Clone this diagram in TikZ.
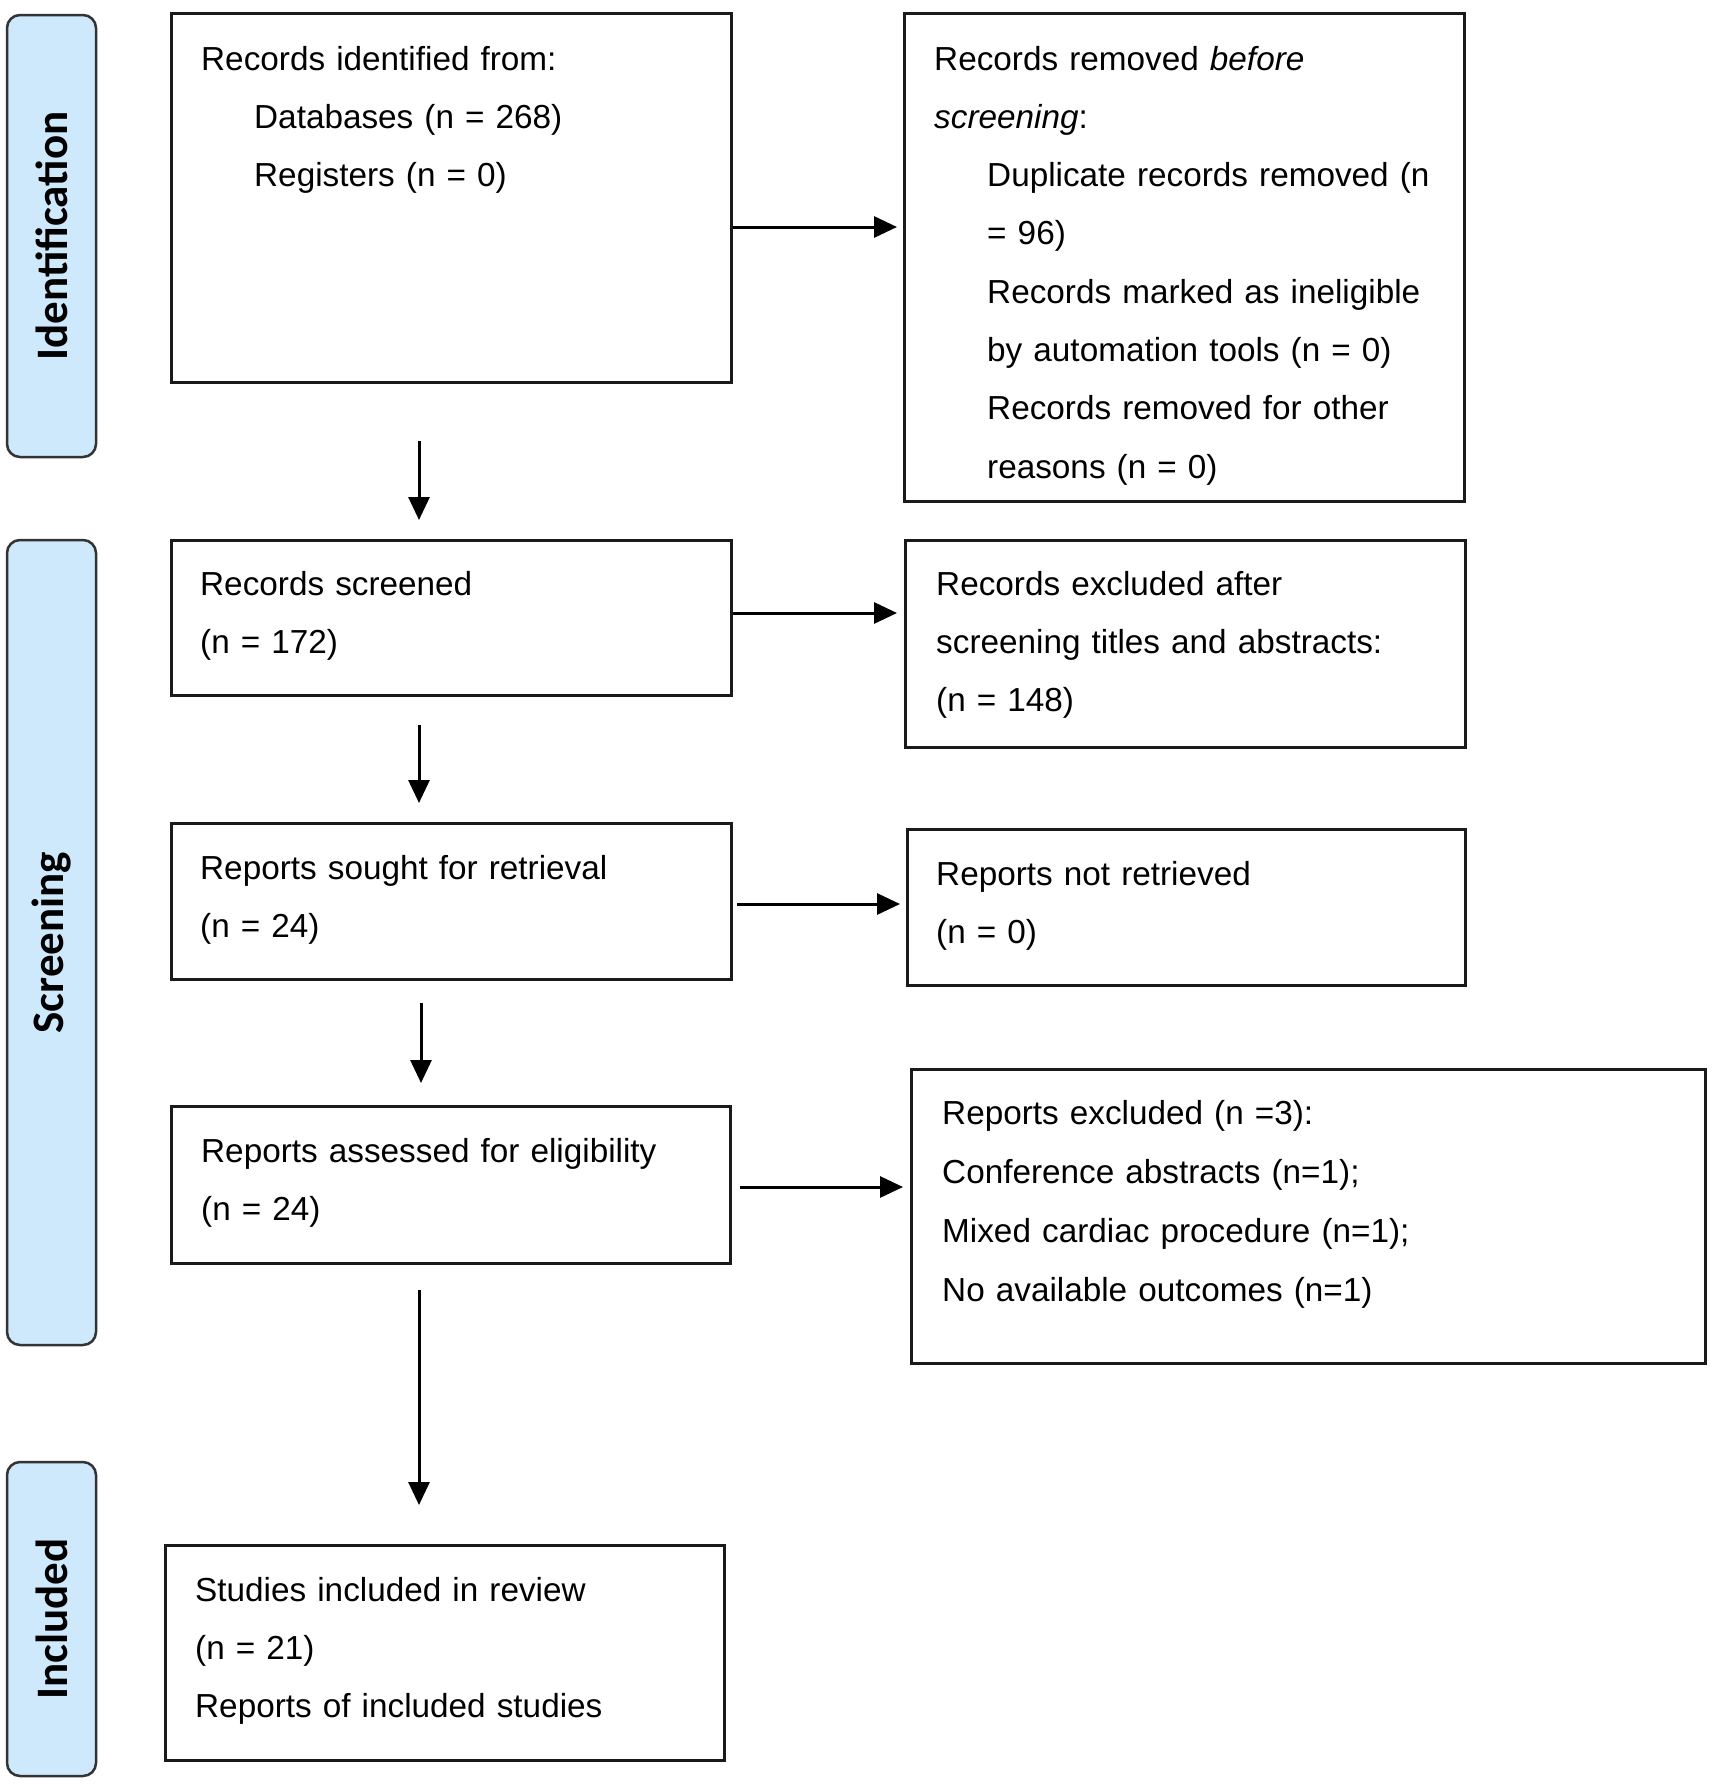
\documentclass[tikz,border=0pt]{standalone}
\usepackage{fontspec}
\setmainfont{Liberation Sans}
\newfontfamily\labfont{Carlito}
\usetikzlibrary{arrows.meta,calc}
\definecolor{labblue}{HTML}{CDE9FB}
\definecolor{labedge}{HTML}{333333}
\definecolor{boxedge}{HTML}{1A1A1A}
\begin{document}
\begin{tikzpicture}[x=1pt,y=-1pt,
  box/.style={draw=boxedge,line width=3pt,rectangle,inner sep=0pt,anchor=north west},
  txt/.style={anchor=base west,inner sep=0pt,align=left,text width=#1,
    font=\fontsize{33.3}{58.3}\selectfont},
  txt/.default=500pt,
  lab/.style={draw=labedge,fill=labblue,line width=2.5pt,rounded corners=13pt,
    rotate=90,inner sep=0pt,font=\labfont\bfseries\fontsize{45}{50}\selectfont},
  arr/.style={draw=black,line width=3pt,-{Triangle[length=23pt,width=21pt]}}
]
\useasboundingbox[fill=white] (0,0) rectangle (1713,1791);

% phase labels
\node[lab,minimum width=442pt,minimum height=89pt] (L1) at (51.5,236) {Identification};
\node[lab,minimum width=805pt,minimum height=89pt] (L2) at (51.5,942.5) {Screening};
\node[lab,minimum width=314pt,minimum height=89pt] (L3) at (51.5,1619) {Included};

% boxes
\node[box,minimum width=560pt,minimum height=369pt] (b1) at (170,12) {};
\node[box,minimum width=560pt,minimum height=488pt] (rem) at (903,12) {};
\node[box,minimum width=560pt,minimum height=155pt] (scr) at (170,539) {};
\node[box,minimum width=560pt,minimum height=207pt] (exc) at (904,539) {};
\node[box,minimum width=560pt,minimum height=156pt] (sou) at (170,822) {};
\node[box,minimum width=558pt,minimum height=156pt] (nr) at (906,828) {};
\node[box,minimum width=559pt,minimum height=157pt] (ass) at (170,1105) {};
\node[box,minimum width=794pt,minimum height=294pt] (rex) at (910,1068) {};
\node[box,minimum width=559pt,minimum height=215pt] (inc) at (164,1544) {};

% texts
\node[txt] (b1t) at (201,70) {Records identified from:\\
\hspace*{53pt}Databases (n = 268)\\
\hspace*{53pt}Registers (n = 0)};
\node[txt] (remt) at (934,70) {Records removed \textit{before}\\
\textit{screening}:\\
\hspace*{53pt}Duplicate records removed (n\\
\hspace*{53pt}= 96)\\
\hspace*{53pt}Records marked as ineligible\\
\hspace*{53pt}by automation tools (n = 0)\\
\hspace*{53pt}Records removed for other\\
\hspace*{53pt}reasons (n = 0)};
\node[txt] (scrt) at (200,595) {Records screened\\(n = 172)};
\node[txt] (exct) at (936,595) {Records excluded after\\screening titles and abstracts:\\(n = 148)};
\node[txt] (sout) at (200,879) {Reports sought for retrieval\\(n = 24)};
\node[txt] (nrt) at (936,885) {Reports not retrieved\\(n = 0)};
\node[txt] (asst) at (201,1162) {Reports assessed for eligibility\\(n = 24)};
\node[txt=700pt,font=\fontsize{33.3}{59}\selectfont] (rext) at (942,1124) {Reports excluded (n =3):\\Conference abstracts (n=1);\\Mixed cardiac procedure (n=1);\\No available outcomes (n=1)};
\node[txt] (inct) at (195,1601) {Studies included in review\\(n = 21)\\Reports of included studies};

% arrow guides
\coordinate (h1) at (0,227);
\coordinate (h2) at (0,613);
\coordinate (h3) at (0,904);
\coordinate (h4) at (0,1187);
\coordinate (v1) at (419,0);
\coordinate (v3) at (421,0);

% horizontal arrows
\draw[arr,shorten >=6pt] (b1.east |- h1) -- (rem.west |- h1);
\draw[arr,shorten >=7pt] (scr.east |- h2) -- (exc.west |- h2);
\draw[arr,shorten <=4pt,shorten >=6pt] (sou.east |- h3) -- (nr.west |- h3);
\draw[arr,shorten <=8pt,shorten >=7pt] (ass.east |- h4) -- (rex.west |- h4);

% vertical arrows
\draw[arr,shorten <=57pt,shorten >=19pt] (b1.south -| v1) -- (scr.north -| v1);
\draw[arr,shorten <=28pt,shorten >=19pt] (scr.south -| v1) -- (sou.north -| v1);
\draw[arr,shorten <=22pt,shorten >=22pt] (sou.south -| v3) -- (ass.north -| v3);
\draw[arr,shorten <=25pt,shorten >=39pt] (ass.south -| v1) -- (inc.north -| v1);
\end{tikzpicture}
\end{document}
